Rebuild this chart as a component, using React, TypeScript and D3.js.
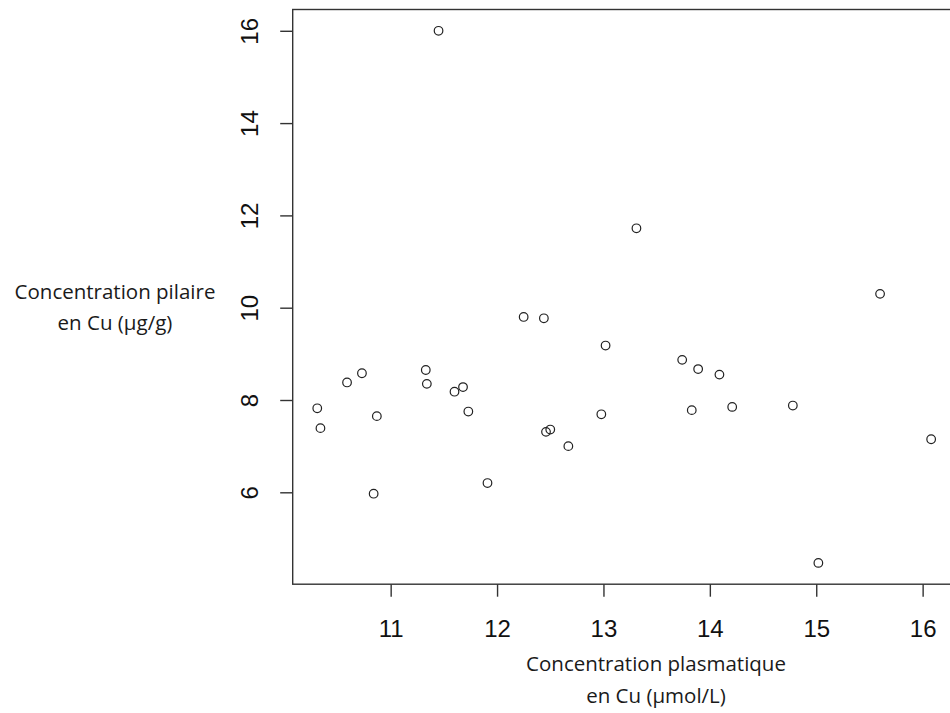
import React, { useRef, useEffect } from "react";
import * as d3 from "d3";

// plasma Cu (µmol/L) vs hair Cu (µg/g)
const plasmaCu = [
  10.31, 10.34, 10.59, 10.73, 10.84, 10.87, 11.33, 11.34, 11.45, 11.6,
  11.68, 11.73, 11.91, 12.25, 12.44, 12.46, 12.5, 12.67, 12.98, 13.02,
  13.31, 13.74, 13.89, 14.09, 13.83, 14.21, 14.78, 15.6, 16.08, 15.02,
];
const hairCu = [
  7.82, 7.39, 8.38, 8.58, 5.97, 7.65, 8.65, 8.35, 16.0, 8.18,
  8.28, 7.75, 6.2, 9.8, 9.77, 7.31, 7.36, 7.0, 7.69, 9.18,
  11.72, 8.87, 8.67, 8.55, 7.78, 7.85, 7.88, 10.3, 7.15, 4.47,
];
const xTicks = [11, 12, 13, 14, 15, 16];
const yTicks = [6, 8, 10, 12, 14, 16];
const xTitle = ["Concentration plasmatique", "en Cu (µmol/L)"];
const yTitle = ["Concentration pilaire", "en Cu (µg/g)"];

const App = () => {
  const wrapper = useRef<SVGSVGElement>(null);

  const width = 950;
  const height = 713;
  const left = 292.7;
  const right = 955.7;
  const top = 9.5;
  const bottom = 584.2;

  useEffect(() => {
    const svg = d3.select(wrapper.current);
    svg.selectAll("*").remove();

    // R-style 4% padding on the data range
    const pad = (ext: number[]) => {
      const d = (ext[1] - ext[0]) * 0.04;
      return [ext[0] - d, ext[1] + d];
    };
    const x = d3
      .scaleLinear()
      .domain(pad(d3.extent(plasmaCu) as number[]))
      .range([left, right]);
    const y = d3
      .scaleLinear()
      .domain(pad(d3.extent(hairCu) as number[]))
      .range([bottom, top]);

    const ink = "#333";

    svg
      .append("rect")
      .attr("x", left)
      .attr("y", top)
      .attr("width", right - left)
      .attr("height", bottom - top)
      .attr("fill", "none")
      .attr("stroke", ink)
      .attr("stroke-width", 1.4);

    const xAxis = svg
      .append("g")
      .attr("transform", `translate(0,${bottom})`)
      .call(d3.axisBottom(x).tickValues(xTicks).tickSize(12.5).tickSizeOuter(0).tickFormat(d3.format("d")));
    xAxis.select(".domain").remove();
    xAxis.selectAll(".tick line").attr("stroke", ink).attr("stroke-width", 1.4);
    xAxis
      .selectAll(".tick text")
      .attr("y", 53)
      .attr("dy", 0)
      .attr("fill", "#111")
      .style("font-family", "'Liberation Sans', Arial, sans-serif")
      .style("font-size", "24px");

    const yAxis = svg
      .append("g")
      .attr("transform", `translate(${left},0)`)
      .call(d3.axisLeft(y).tickValues(yTicks).tickSize(12.5).tickSizeOuter(0).tickFormat(d3.format("d")));
    yAxis.select(".domain").remove();
    yAxis.selectAll(".tick line").attr("stroke", ink).attr("stroke-width", 1.4);
    yAxis
      .selectAll(".tick text")
      .attr("x", null)
      .attr("dy", 0)
      .attr("transform", "translate(-34.5,0) rotate(-90)")
      .attr("text-anchor", "middle")
      .attr("fill", "#111")
      .style("font-family", "'Liberation Sans', Arial, sans-serif")
      .style("font-size", "24px");

    svg
      .append("g")
      .selectAll("circle")
      .data(plasmaCu.map((v, i) => [v, hairCu[i]]))
      .enter()
      .append("circle")
      .attr("cx", (d) => x(d[0]))
      .attr("cy", (d) => y(d[1]))
      .attr("r", 4.3)
      .attr("fill", "none")
      .attr("stroke", "#222")
      .attr("stroke-width", 1.2);

    const titleFont = "'Open Sans', 'Noto Sans', sans-serif";

    svg
      .append("g")
      .selectAll("text")
      .data(xTitle)
      .enter()
      .append("text")
      .attr("x", 656)
      .attr("y", (d, i) => 670.5 + i * 32)
      .attr("text-anchor", "middle")
      .attr("fill", "#1a1a1a")
      .style("font-family", titleFont)
      .style("font-size", "20.5px")
      .text((d) => d);

    svg
      .append("g")
      .selectAll("text")
      .data(yTitle)
      .enter()
      .append("text")
      .attr("x", 115)
      .attr("y", (d, i) => 298.5 + i * 31.5)
      .attr("text-anchor", "middle")
      .attr("fill", "#1a1a1a")
      .style("font-family", titleFont)
      .style("font-size", "20.5px")
      .text((d) => d);
  }, [wrapper]);

  return (
    <div style={{ position: "absolute", left: 0, top: 0 }}>
      <svg ref={wrapper} width={width} height={height} style={{ display: "block", background: "#fff" }} />
    </div>
  );
};

export default App;
